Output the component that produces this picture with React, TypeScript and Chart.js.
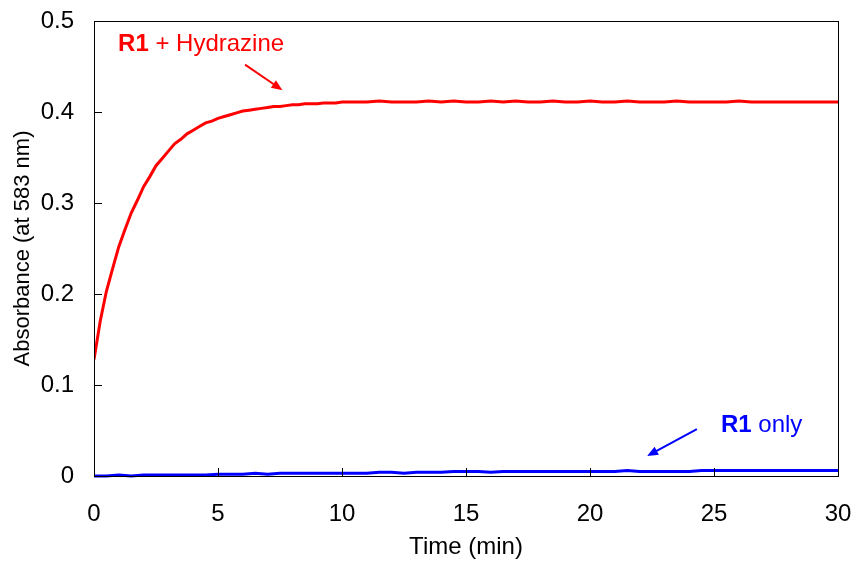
import React, { useEffect, useRef } from "react";
import { Chart, registerables } from "chart.js";
Chart.register(...registerables);

const FONT = "'Liberation Sans', Arial, sans-serif";

const redTimes = [
  0, 0.25, 0.5, 0.75, 1, 1.25, 1.5, 1.75, 2, 2.25, 2.5, 2.75, 3, 3.25, 3.5, 3.75, 4, 4.25, 4.5, 4.75,
  5, 5.25, 5.5, 5.75, 6, 6.25, 6.5, 6.75, 7, 7.25, 7.5, 7.75, 8, 8.25, 8.5, 8.75, 9, 9.25, 9.5, 9.75, 10,
  10.5, 11, 11.5, 12, 12.5, 13, 13.5, 14, 14.5, 15, 15.5, 16, 16.5, 17, 17.5, 18, 18.5, 19, 19.5, 20,
  20.5, 21, 21.5, 22, 22.5, 23, 23.5, 24, 24.5, 25, 25.5, 26, 26.5, 27, 27.5, 28, 28.5, 29, 29.5, 30,
];
const redAbs = [
  0.128, 0.17, 0.203, 0.228, 0.252, 0.271, 0.289, 0.303, 0.318, 0.329, 0.341, 0.349, 0.357, 0.365, 0.37, 0.376, 0.38, 0.384, 0.388, 0.39,
  0.393, 0.395, 0.397, 0.399, 0.401, 0.402, 0.403, 0.404, 0.405, 0.406, 0.406, 0.407, 0.408, 0.408, 0.409, 0.409, 0.409, 0.41, 0.41, 0.41, 0.411,
  0.411, 0.411, 0.412, 0.411, 0.411, 0.411, 0.412, 0.411, 0.412, 0.411, 0.411, 0.412, 0.411, 0.412, 0.411, 0.411, 0.412, 0.411, 0.411, 0.412,
  0.411, 0.411, 0.412, 0.411, 0.411, 0.411, 0.412, 0.411, 0.411, 0.411, 0.411, 0.412, 0.411, 0.411, 0.411, 0.411, 0.411, 0.411, 0.411, 0.411,
];

const blueTimes = [
  0, 0.5, 1, 1.5, 2, 2.5, 3, 3.5, 4, 4.5, 5, 5.5, 6, 6.5, 7, 7.5, 8, 8.5, 9, 9.5, 10,
  10.5, 11, 11.5, 12, 12.5, 13, 13.5, 14, 14.5, 15, 15.5, 16, 16.5, 17, 17.5, 18, 18.5, 19, 19.5, 20,
  20.5, 21, 21.5, 22, 22.5, 23, 23.5, 24, 24.5, 25, 25.5, 26, 26.5, 27, 27.5, 28, 28.5, 29, 29.5, 30,
];
const blueAbs = [
  0.0, 0.0, 0.001, 0.0, 0.001, 0.001, 0.001, 0.001, 0.001, 0.001, 0.002, 0.002, 0.002, 0.003, 0.002, 0.003, 0.003, 0.003, 0.003, 0.003, 0.003,
  0.003, 0.003, 0.004, 0.004, 0.003, 0.004, 0.004, 0.004, 0.005, 0.005, 0.005, 0.004, 0.005, 0.005, 0.005, 0.005, 0.005, 0.005, 0.005, 0.005,
  0.005, 0.005, 0.006, 0.005, 0.005, 0.005, 0.005, 0.005, 0.006, 0.006, 0.006, 0.006, 0.006, 0.006, 0.006, 0.006, 0.006, 0.006, 0.006, 0.006,
];

const xTicks = [0, 5, 10, 15, 20, 25, 30];
const yTicks = [0, 0.1, 0.2, 0.3, 0.4, 0.5];

function drawArrow(ctx: CanvasRenderingContext2D, x1: number, y1: number, x2: number, y2: number, color: string) {
  const ang = Math.atan2(y2 - y1, x2 - x1);
  const head = 11;
  const half = 4.5;
  ctx.save();
  ctx.strokeStyle = color;
  ctx.fillStyle = color;
  ctx.lineWidth = 2;
  ctx.beginPath();
  ctx.moveTo(x1, y1);
  ctx.lineTo(x2 - Math.cos(ang) * head * 0.8, y2 - Math.sin(ang) * head * 0.8);
  ctx.stroke();
  ctx.beginPath();
  ctx.moveTo(x2, y2);
  ctx.lineTo(x2 - Math.cos(ang) * head - Math.sin(ang) * half, y2 - Math.sin(ang) * head + Math.cos(ang) * half);
  ctx.lineTo(x2 - Math.cos(ang) * head + Math.sin(ang) * half, y2 - Math.sin(ang) * head - Math.cos(ang) * half);
  ctx.closePath();
  ctx.fill();
  ctx.restore();
}

function drawLabel(ctx: CanvasRenderingContext2D, x: number, y: number, bold: string, rest: string, color: string) {
  ctx.save();
  ctx.fillStyle = color;
  ctx.textBaseline = "middle";
  ctx.textAlign = "left";
  ctx.font = `bold 24px ${FONT}`;
  ctx.fillText(bold, x, y);
  const w = ctx.measureText(bold).width;
  ctx.font = `24px ${FONT}`;
  ctx.fillText(rest, x + w, y);
  ctx.restore();
}

const framePlugin = {
  id: "frameAndNotes",
  afterDatasetsDraw(chart: any) {
    const { ctx, chartArea } = chart;
    const xs = chart.scales.x;
    const ys = chart.scales.y;
    ctx.save();
    ctx.strokeStyle = "#000";
    ctx.lineWidth = 1;
    ctx.strokeRect(chartArea.left + 0.5, chartArea.top + 0.5, chartArea.right - chartArea.left, chartArea.bottom - chartArea.top);
    ctx.beginPath();
    for (const t of xTicks) {
      const px = Math.round(xs.getPixelForValue(t)) + 0.5;
      ctx.moveTo(px, chartArea.bottom);
      ctx.lineTo(px, chartArea.bottom - 8);
    }
    for (const t of yTicks) {
      const py = Math.round(ys.getPixelForValue(t)) + 0.5;
      ctx.moveTo(chartArea.left, py);
      ctx.lineTo(chartArea.left + 8, py);
    }
    ctx.stroke();
    ctx.restore();

    drawLabel(ctx, xs.getPixelForValue(0.97), ys.getPixelForValue(0.474), "R1", " + Hydrazine", "#ff0000");
    drawArrow(ctx, xs.getPixelForValue(6.09), ys.getPixelForValue(0.452), xs.getPixelForValue(7.6), ys.getPixelForValue(0.424), "#ff0000");
    drawLabel(ctx, xs.getPixelForValue(25.28), ys.getPixelForValue(0.056), "R1", " only", "#0000ff");
    drawArrow(ctx, xs.getPixelForValue(24.31), ys.getPixelForValue(0.0516), xs.getPixelForValue(22.3), ys.getPixelForValue(0.022), "#0000ff");
  },
};

export default function App() {
  const ref = useRef<HTMLCanvasElement | null>(null);
  useEffect(() => {
    if (!ref.current) return;
    const chart = new Chart(ref.current, {
      type: "line",
      data: {
        datasets: [
          {
            label: "R1 + Hydrazine",
            data: redTimes.map((t, i) => ({ x: t, y: redAbs[i] })),
            borderColor: "#ff0000",
            borderWidth: 3,
            pointRadius: 0,
            tension: 0,
            fill: false,
          },
          {
            label: "R1 only",
            data: blueTimes.map((t, i) => ({ x: t, y: blueAbs[i] })),
            borderColor: "#0000ff",
            borderWidth: 3,
            pointRadius: 0,
            tension: 0,
            fill: false,
            clip: false as any,
          },
        ],
      },
      options: {
        animation: false,
        responsive: false,
        maintainAspectRatio: false,
        layout: { padding: { top: 21, right: 18, left: 0, bottom: 0 } },
        plugins: { legend: { display: false }, tooltip: { enabled: false } },
        scales: {
          x: {
            type: "linear",
            min: 0,
            max: 30,
            afterFit: (s: any) => { s.height = 86; s.paddingLeft = 0; s.paddingRight = 0; },
            afterBuildTicks: (s: any) => { s.ticks = xTicks.map((v) => ({ value: v })); },
            grid: { display: false, drawTicks: false },
            border: { display: true, color: "#000", width: 1 },
            ticks: { color: "#000", font: { family: FONT, size: 24 }, padding: 24, maxRotation: 0, callback: (v: any) => String(v) },
            title: { display: true, text: "Time (min)", color: "#000", font: { family: FONT, size: 24 }, padding: { top: 0, bottom: 0 } },
          },
          y: {
            type: "linear",
            min: 0,
            max: 0.5,
            afterFit: (s: any) => { s.width = 94; s.paddingTop = 0; s.paddingBottom = 0; },
            afterBuildTicks: (s: any) => { s.ticks = yTicks.map((v) => ({ value: v })); },
            grid: { display: false, drawTicks: false },
            border: { display: true, color: "#000", width: 1 },
            ticks: { color: "#000", font: { family: FONT, size: 24 }, padding: 20, callback: (v: any) => String(Math.round(v * 10) / 10) },
            title: { display: true, text: "Absorbance (at 583 nm)", color: "#000", font: { family: FONT, size: 22 }, padding: { top: 10, bottom: 0 } },
          },
        },
      },
      plugins: [framePlugin],
    });
    return () => chart.destroy();
  }, []);
  return (
    <div style={{ position: "fixed", left: 0, top: 0, width: 856, height: 562, background: "#fff" }}>
      <canvas ref={ref} width={856} height={562} style={{ width: 856, height: 562, display: "block" }} />
    </div>
  );
}
